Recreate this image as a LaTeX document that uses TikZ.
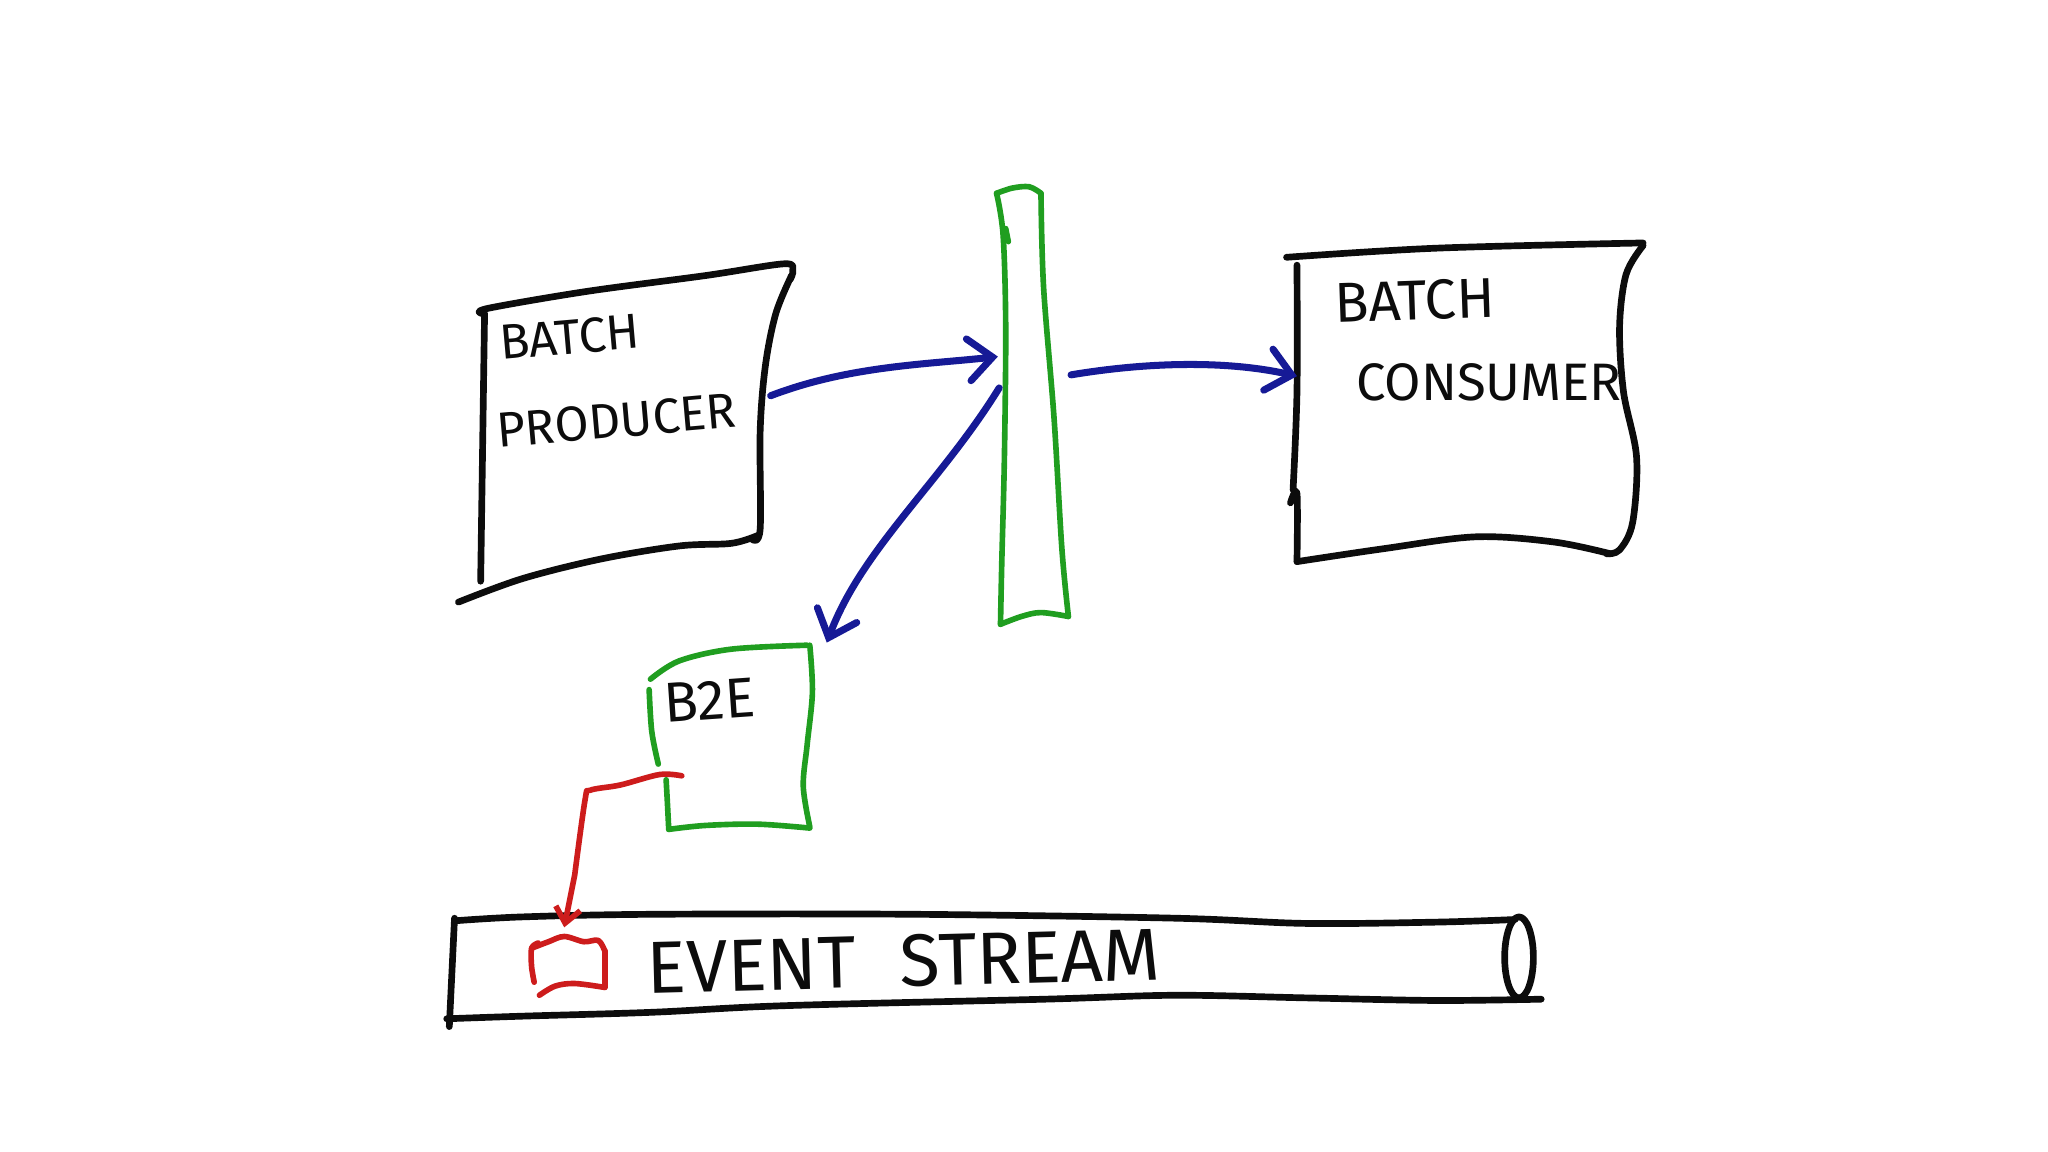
\documentclass[tikz,border=0pt]{standalone}
\usepackage{fontspec}
\setmainfont{Fira Sans}
\usetikzlibrary{arrows.meta}
\definecolor{inkblack}{RGB}{12,12,12}
\definecolor{inkblue}{RGB}{22,26,150}
\definecolor{inkgreen}{RGB}{32,158,32}
\definecolor{inkred}{RGB}{205,28,28}
\begin{document}
\begin{tikzpicture}[x={(0.0130612cm,0)}, y={(0,-0.0130612cm)},
  ink/.style={line width=1.9pt, line cap=round, line join=round, draw=inkblack},
  gink/.style={line width=1.6pt, line cap=round, line join=round, draw=inkgreen},
  bink/.style={line width=2pt, line cap=round, line join=round, draw=inkblue,
     -{Straight Barb[length=2.4mm,width=4.2mm,line cap=round]}},
  rink/.style={line width=1.6pt, line cap=round, line join=round, draw=inkred},
  hand/.style={inner sep=0pt, text=inkblack, font=\fontsize{14}{14}\selectfont},
  sm/.style={smooth, tension=0.55}
]
\fill[white] (0,0) rectangle (1568,882);
\useasboundingbox (0,0) rectangle (1568,882);

% ---------- Batch producer ----------
\draw[ink] (368,445) -- (371,240);
\draw[ink] plot[sm] coordinates {(369,240) (374,236) (450,223) (540,211) (600,202) (607,207) (605,214)};
\draw[ink] plot[sm] coordinates {(606,211) (594,240) (586,280) (582,330) (582,405) (576,413)};
\draw[ink] plot[sm] coordinates {(580,410) (560,416) (520,418) (460,428) (400,443) (351,461)};
\node[hand, rotate=5] (prodT1) at (436,258) {BATCH};
\node[hand, rotate=5] (prodT2) at (472,322) {PRODUCER};
\coordinate (pOut) at (590,303);

% ---------- Green bar ----------
\draw[gink] plot[sm] coordinates {(763,148) (768,180) (770,250) (769,350) (767,430) (766,478)};
\draw[gink] plot[sm] coordinates {(766,478) (782,472) (797,469) (818,472)};
\draw[gink] plot[sm] coordinates {(818,472) (813,420) (807,320) (799,220) (797,148)};
\draw[gink] plot[sm] coordinates {(797,148) (788,143) (775,144) (763,148)};
\draw[gink] (770,175) -- (772,185);
\coordinate (barL) at (764,273);
\coordinate (barR) at (820,287);
\coordinate (barLow) at (765,297);

% ---------- Batch consumer ----------
\draw[ink] plot[sm] coordinates {(985,197) (1100,190) (1258,186)};
\draw[ink] plot[sm] coordinates {(993,203) (993,300) (990,375)};
\draw[ink] plot[sm] coordinates {(988,385) (993,378) (993,430)};
\draw[ink] plot[sm] coordinates {(1258,188) (1245,210) (1240,250) (1243,300) (1253,350) (1250,400) (1240,421) (1230,424)};
\draw[ink] plot[sm] coordinates {(993,430) (1060,420) (1130,411) (1190,415) (1233,424)};
\node[hand, rotate=2, font=\fontsize{16}{16}\selectfont] (consT1) at (1083,230) {BATCH};
\node[hand, font=\fontsize{15}{15}\selectfont] (consT2) at (1140,293) {CONSUMER};
\coordinate (cIn) at (993,288);

% ---------- B2E ----------
\draw[gink] plot[sm] coordinates {(498,520) (520,506) (560,497) (618,494)};
\draw[gink] plot[sm] coordinates {(620,494) (622,530) (618,570) (615,602) (620,633)};
\draw[gink] plot[sm] coordinates {(512,635) (540,632) (580,631) (620,634)};
\draw[gink] plot[sm] coordinates {(497,528) (499,560) (504,585)};
\draw[gink] plot[sm] coordinates {(510,597) (511,615) (512,635)};
\node[hand, font=\fontsize{16}{16}\selectfont, rotate=4] (b2eT) at (543,536) {B2E};
\coordinate (b2eIn) at (633,492);
\coordinate (b2eOut) at (522,594);

% ---------- Blue arrows ----------
\draw[bink] (pOut) .. controls (650,280) and (710,279) .. (barL);
\draw[bink] (barR) .. controls (880,277) and (940,276) .. (cIn);
\draw[bink] (barLow) .. controls (720,370) and (660,420) .. (b2eIn);

% ---------- Event stream ----------
\draw[ink] plot[sm] coordinates {(348,705) (400,702) (500,700) (700,700) (900,703) (1000,707) (1100,706) (1160,704)};
\draw[ink] (348,703) -- (344,786);
\draw[ink] plot[sm] coordinates {(342,780) (400,778) (500,775) (600,770) (800,765) (900,762) (1000,764) (1100,766) (1180,765)};
\draw[ink] (1163,733) ellipse [x radius=11, y radius=31];
\node[hand, font=\fontsize{21}{21}\selectfont, rotate=1.5] (evT) at (692,736) {EVENT\hspace{0.6em}STREAM};

% red flag
\draw[rink] plot[sm] coordinates {(409,752) (407,740) (407,726) (412,722)};
\draw[rink] plot[sm] coordinates {(407,726) (420,721) (432,717) (447,721) (458,720) (463,728)};
\draw[rink] (463,728) -- (463,756);
\draw[rink] plot[sm] coordinates {(463,756) (440,753) (425,755) (413,762)};
\coordinate (flagTop) at (432,710);

% red connector
\draw[rink, -{Straight Barb[length=1.5mm,width=2.5mm]}] plot[sm] coordinates {(b2eOut) (505,593) (475,601) (452,605) (448,612) (440,670)} -- (flagTop);
\end{tikzpicture}
\end{document}
